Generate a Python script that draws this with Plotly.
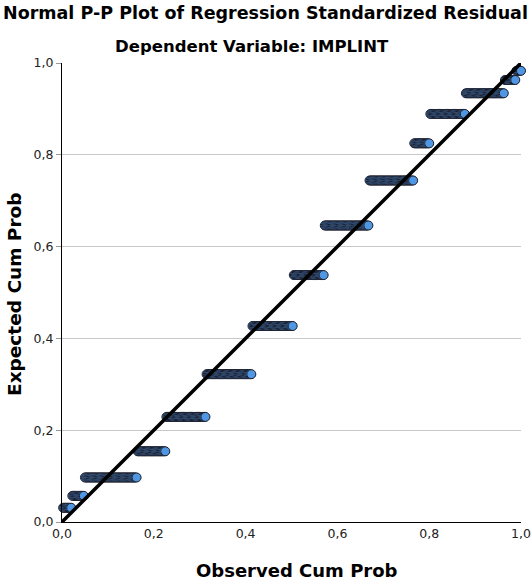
import plotly.graph_objects as go

# Expected cumulative probability for each distinct standardized residual level
expected_levels = [0.031, 0.057, 0.097, 0.154, 0.229, 0.322, 0.427, 0.538,
                   0.646, 0.744, 0.825, 0.889, 0.934, 0.963, 0.983]
# Number of cases at each level (read from horizontal extent of each run)
level_counts = [8, 11, 46, 25, 35, 40, 36, 27, 39, 39, 14, 31, 34, 10, 5]

x_tick_vals = [0.0, 0.2, 0.4, 0.6, 0.8, 1.0]
y_tick_vals = [0.0, 0.2, 0.4, 0.6, 0.8, 1.0]

title_line1 = "Normal P-P Plot of Regression Standardized Residual"
title_line2 = "Dependent Variable: IMPLINT"
x_title = "Observed Cum Prob"
y_title = "Expected Cum Prob"

# Observed cum prob = rank / n
n = sum(level_counts)
obs, exp = [], []
rank = 0
for lvl, c in zip(expected_levels, level_counts):
    for _ in range(c):
        rank += 1
        obs.append(rank / n)
        exp.append(lvl)

W, H = 531, 583
L, R, T, B = 62, 10, 63, 61
PW = W - L - R
PH = H - T - B

def px_x(px):
    return (px - L) / PW

def px_y(py):
    return (H - B - py) / PH

fig = go.Figure()
fig.add_trace(go.Scatter(
    x=obs, y=exp, mode="markers",
    marker=dict(size=9, color="#4f97e3", line=dict(width=1, color="#1c1c28")),
    cliponaxis=False, hoverinfo="skip", showlegend=False))
fig.add_trace(go.Scatter(
    x=[0, 1], y=[0, 1], mode="lines",
    line=dict(color="black", width=3.5),
    cliponaxis=False, hoverinfo="skip", showlegend=False))

fig.update_layout(
    width=W, height=H,
    margin=dict(l=L, r=R, t=T, b=B, pad=0, autoexpand=False),
    paper_bgcolor="white", plot_bgcolor="white",
    separators=", ",
    font=dict(family="DejaVu Sans", color="#111"),
    showlegend=False,
)
fig.update_xaxes(
    range=[0, 1], tickvals=x_tick_vals, tickformat=".1f",
    showgrid=False, zeroline=False, automargin=False,
    showline=True, linecolor="black", linewidth=1,
    ticks="", ticklen=0,
    tickfont=dict(family="DejaVu Sans", size=12.5, color="#222"),
)
fig.update_yaxes(
    range=[0, 1], tickvals=y_tick_vals, tickformat=".1f",
    showgrid=True, gridcolor="#c8c8c8", gridwidth=1, zeroline=False, automargin=False,
    showline=True, linecolor="black", linewidth=1,
    ticks="outside", ticklen=5, tickcolor="#999", tickwidth=1,
    tickfont=dict(family="DejaVu Sans", size=12.5, color="#222"),
)

fig.add_annotation(text="<b>%s</b>" % title_line1, xref="paper", yref="paper",
                   x=px_x(265), y=px_y(13), xanchor="center", yanchor="middle",
                   showarrow=False, font=dict(family="DejaVu Sans", size=17.5, color="black"))
fig.add_annotation(text="<b>%s</b>" % title_line2, xref="paper", yref="paper",
                   x=px_x(252), y=px_y(47), xanchor="center", yanchor="middle",
                   showarrow=False, font=dict(family="DejaVu Sans", size=16.5, color="black"))
fig.add_annotation(text="<b>%s</b>" % x_title, xref="paper", yref="paper",
                   x=px_x(297), y=px_y(570), xanchor="center", yanchor="middle",
                   showarrow=False, font=dict(family="DejaVu Sans", size=18, color="black"))
fig.add_annotation(text="<b>%s</b>" % y_title, xref="paper", yref="paper",
                   x=px_x(14), y=px_y(294), xanchor="center", yanchor="middle",
                   textangle=-90,
                   showarrow=False, font=dict(family="DejaVu Sans", size=18.5, color="black"))

fig.write_html("out.html",
               config={"displayModeBar": False, "staticPlot": True},
               post_script="document.body.style.margin='0';document.body.style.overflow='hidden';")
